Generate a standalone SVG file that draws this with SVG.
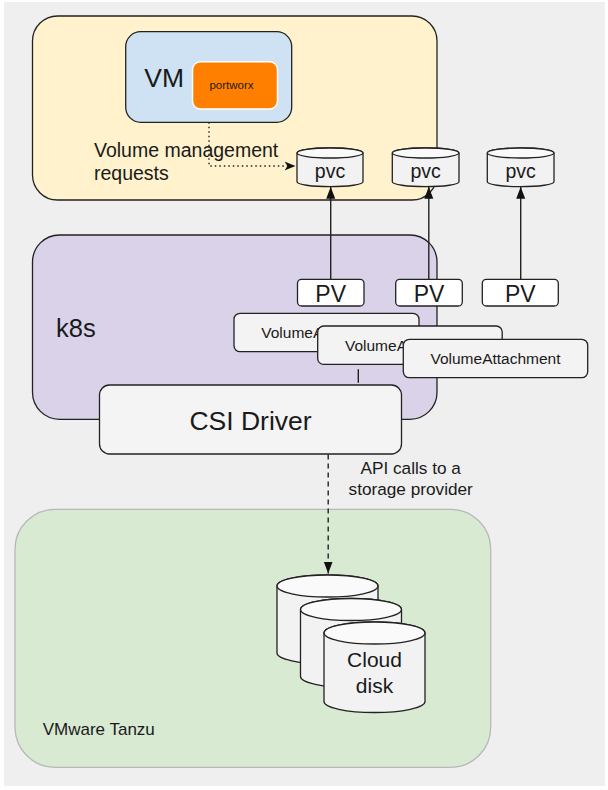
<svg xmlns="http://www.w3.org/2000/svg" width="608" height="790" viewBox="0 0 608 790">
<defs>
<style>
text{font-family:"Liberation Sans",Arial,sans-serif;fill:#1a1a1a}
.box{stroke:#222;stroke-width:1.3}
.light{fill:#f3f3f3}
.mid{text-anchor:middle}
.conn{stroke:#222;stroke-width:1.4;fill:none}
.cylb{fill:#f2f2f2;stroke:#222;stroke-width:1.3}
.cylt{fill:#fafafa;stroke:#222;stroke-width:1.3}
</style>
<marker id="block" markerUnits="userSpaceOnUse" markerWidth="12" markerHeight="10" refX="12" refY="4.5" orient="auto">
<path d="M0,0 L12,4.5 L0,9 Z" fill="#111"/>
</marker>
<marker id="classic" markerUnits="userSpaceOnUse" markerWidth="12" markerHeight="10" refX="11" refY="5" orient="auto">
<path d="M0,0.5 L11,5 L0,9.5 L3,5 Z" fill="#111"/>
</marker>
</defs>
<rect x="0" y="0" width="608" height="790" fill="#ffffff"/>
<rect x="4" y="2" width="601" height="784" fill="#efefef"/>

<g id="tanzu">
<rect x="15" y="509.3" width="475.7" height="258" rx="40" fill="#d9ead3" stroke="#b8b8b8" stroke-width="1.3"/>
<text x="42.7" y="735" font-size="17">VMware Tanzu</text>
</g>

<g id="host">
<rect class="box" x="32.5" y="16" width="404.5" height="184" rx="25" fill="#fff2cc"/>
</g>
<g id="vm">
<rect class="box" x="125.7" y="31.7" width="166" height="90.6" rx="15" fill="#cfe2f3"/>
<text x="144.3" y="87.3" font-size="26.5">VM</text>
</g>
<g id="portworx">
<rect x="192.5" y="61.7" width="85" height="47.3" rx="8" fill="#ff8000" stroke="#ffffff" stroke-width="1.5"/>
<text class="mid" x="231.5" y="88.7" font-size="11.5">portworx</text>
</g>
<g id="label-volume">
<text x="94" y="156.7" font-size="19.5">Volume management</text>
<text x="94" y="180" font-size="19.5">requests</text>
</g>

<g id="k8s">
<rect class="box" x="32.5" y="235" width="404.5" height="184.3" rx="27" fill="#d9d2e9"/>
<text x="56" y="336.7" font-size="25.5">k8s</text>
</g>

<g id="pvc1">
<path class="cylb" d="M297,153 A33,5 0 0 1 363,153 V181.7 A33,5 0 0 1 297,181.7 Z"/>
<ellipse class="cylt" cx="330" cy="153" rx="33" ry="5"/>
<text class="mid" x="330" y="178.3" font-size="19.5">pvc</text>
</g>
<g id="pvc2">
<path class="cylb" d="M392.3,153 A33.3,5 0 0 1 459,153 V181.7 A33.3,5 0 0 1 392.3,181.7 Z"/>
<ellipse class="cylt" cx="425.6" cy="153" rx="33.3" ry="5"/>
<text class="mid" x="425.6" y="178.3" font-size="19.5">pvc</text>
</g>
<g id="pvc3">
<path class="cylb" d="M487.3,153 A33.3,5 0 0 1 554,153 V181.7 A33.3,5 0 0 1 487.3,181.7 Z"/>
<ellipse class="cylt" cx="520.6" cy="153" rx="33.3" ry="5"/>
<text class="mid" x="520.6" y="178.3" font-size="19.5">pvc</text>
</g>

<g id="connectors">
<path class="conn" d="M209,122.3 V166 H295.5" stroke-dasharray="1.5 3" marker-end="url(#classic)"/>
<line class="conn" x1="330.7" y1="279.3" x2="330.7" y2="186.8" marker-end="url(#block)"/>
<line class="conn" x1="428.8" y1="279.3" x2="428.8" y2="186.8" marker-end="url(#block)"/>
<line class="conn" x1="520.7" y1="279.3" x2="520.7" y2="186.8" marker-end="url(#block)"/>
<line class="conn" x1="358.3" y1="369.3" x2="358.3" y2="382.7"/>
<line class="conn" x1="328.2" y1="454.5" x2="328.2" y2="573.5" stroke-dasharray="5 4" marker-end="url(#block)"/>
</g>

<g id="pv1">
<rect class="box" x="297.5" y="279.3" width="66.5" height="26.7" rx="4" fill="#ffffff"/>
<text class="mid" x="330.7" y="302" font-size="23">PV</text>
</g>
<g id="pv2">
<rect class="box" x="395.7" y="279.3" width="66.6" height="26.7" rx="4" fill="#ffffff"/>
<text class="mid" x="429" y="302" font-size="23">PV</text>
</g>
<g id="pv3">
<rect class="box" x="482.3" y="279.3" width="76" height="26.7" rx="4" fill="#ffffff"/>
<text class="mid" x="520.3" y="302" font-size="23">PV</text>
</g>

<g id="va1">
<rect class="box light" x="234" y="313.3" width="185" height="38.4" rx="6"/>
<text class="mid" x="326.3" y="338.3" font-size="15.5">VolumeAttachment</text>
</g>
<g id="va2">
<rect class="box light" x="317.7" y="326" width="184.5" height="38.4" rx="6"/>
<text class="mid" x="410" y="351" font-size="15.5">VolumeAttachment</text>
</g>
<g id="va3">
<rect class="box light" x="403.3" y="339.3" width="184.4" height="38.4" rx="6"/>
<text class="mid" x="495.5" y="364" font-size="15.5">VolumeAttachment</text>
</g>

<g id="csi">
<rect class="box" x="99.5" y="385" width="302" height="69" rx="10" fill="#f4f4f4"/>
<text class="mid" x="250.5" y="430" font-size="26.5">CSI Driver</text>
</g>

<g id="label-api">
<text class="mid" x="410.7" y="473.5" font-size="17.2">API calls to a</text>
<text class="mid" x="410.7" y="495" font-size="17.2">storage provider</text>
</g>

<g id="disk1">
<path class="cylb" d="M277,586 A50.5,11 0 0 1 378,586 V653 A50.5,11 0 0 1 277,653 Z"/>
<ellipse class="cylt" cx="327.5" cy="586" rx="50.5" ry="11"/>
</g>
<g id="disk2">
<path class="cylb" d="M300.5,609.5 A50.5,11 0 0 1 401.5,609.5 V676.5 A50.5,11 0 0 1 300.5,676.5 Z"/>
<ellipse class="cylt" cx="351" cy="609.5" rx="50.5" ry="11"/>
</g>
<g id="disk3">
<path class="cylb" d="M324,633 A50.5,11 0 0 1 425,633 V701.5 A50.5,11 0 0 1 324,701.5 Z"/>
<ellipse class="cylt" cx="374.5" cy="633" rx="50.5" ry="11"/>
<text class="mid" x="374.5" y="666.7" font-size="21">Cloud</text>
<text class="mid" x="374.5" y="692.7" font-size="21">disk</text>
</g>
</svg>
